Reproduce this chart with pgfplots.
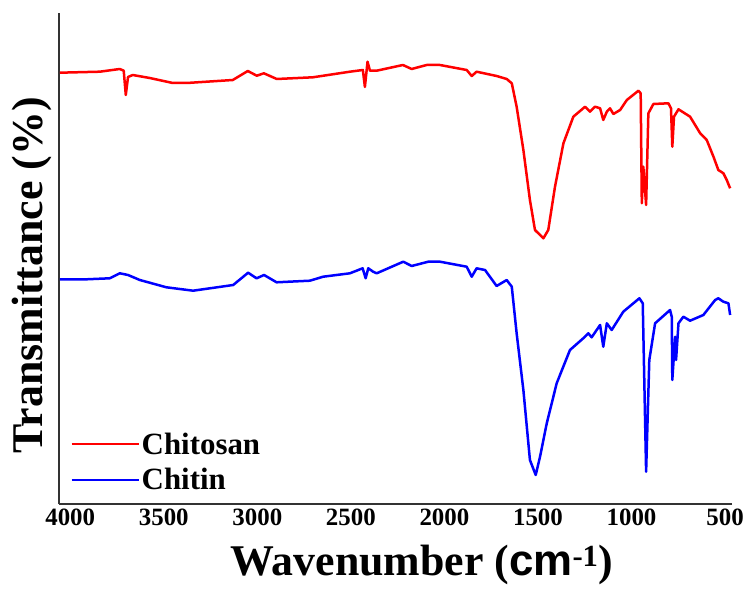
\documentclass[border=0pt]{standalone}
\usepackage{fontspec}
\setmainfont{Liberation Serif}
\newfontfamily\lsans{Liberation Sans}
\usepackage{graphicx}
\usepackage{pgfplots}
\pgfplotsset{compat=1.18}

\begin{document}
\begin{tikzpicture}
\begin{axis}[
    scale only axis,
    width=673bp, height=491bp,
    x dir=reverse,
    xmin=463, xmax=4060,
    ymin=0, ymax=491,
    axis x line=bottom, axis y line=left,
    axis line style={-, line width=1.3bp, black!80},
    xtick={500,1000,1500,2000,2500,3000,3500,4000},
    ytick=\empty,
    major tick length=0pt,
    /pgf/number format/assume math mode=true,
    /pgf/number format/1000 sep={},
    ticklabel style={font=\bfseries\fontsize{25}{25}\selectfont},
    xticklabel style={yshift=-1bp},
    xlabel={\bfseries Wavenumber ({\lsans cm}\textsuperscript{-1})},
    xlabel style={font=\fontsize{44}{44}\selectfont, at={(axis description cs:0.539,-0.124)}, anchor=center},
    ylabel={\bfseries Transmittance (\%)},
    ylabel style={font=\fontsize{44}{44}\selectfont, at={(axis description cs:-0.0401,0.466)}, anchor=center},
    legend style={draw=none, fill=none, at={(axis description cs:0.012,0.017)}, anchor=south west,
        font=\bfseries\fontsize{31}{31}\selectfont, row sep=9bp},
    legend cell align=left,
    legend image code/.code={\draw[#1] (0bp,0bp) -- (67bp,0bp);},
    every axis plot/.append style={line width=2.5bp, line join=round},
]
\addplot[red, mark=none] coordinates {
(4055,431.3) (3842,432.3) (3735,435) (3714,433.3) (3703,409) (3691,427) (3666,429)
(3575,426) (3452,421) (3377,421) (3131,424) (3051,433) (3003,428.3) (2965,430.7)
(2896,425) (2703,426.7) (2505,432.3) (2436,434) (2425,417) (2411,442.3) (2398,433.3)
(2362,433.3) (2222,439) (2175,435) (2095,439) (2024,439) (1881,434) (1854,428)
(1828,432.3) (1721,428) (1667,425) (1640,420.7) (1614,397.3) (1578,354) (1543,304)
(1516,274) (1471,265.7) (1445,274) (1409,317.3) (1364,360.7) (1311,387.3) (1248,397.3)
(1222,392.3) (1195,397.3) (1168,395.7) (1151,384) (1132,392.3) (1115,395.7) (1097,390)
(1061,394) (1025,404) (963,413.3) (951,410.7) (945,300.7) (937,337.3) (922,299)
(910,390.7) (883,400) (803,400.7) (789,395.7) (782,357.3) (773,387.3) (749,394.7)
(687,387.3) (633,370.7) (598,364) (562,347.3) (536,334) (509,330.7) (491,324) (473,315.7)
};
\addlegendentry{Chitosan}
\addplot[blue, mark=none] coordinates {
(4055,224.7) (3913,224.7) (3789,225.7) (3735,230.7) (3691,229) (3628,224) (3486,216.7)
(3343,213.3) (3129,219) (3049,231.3) (3004,225.7) (2964,229) (2897,221.7) (2719,223.3)
(2648,227.3) (2505,230.7) (2437,235.7) (2421,225.7) (2407,235.7) (2381,232.3) (2362,230.7)
(2220,242.3) (2175,238) (2086,242.3) (2024,242.3) (1881,237.3) (1854,227.3) (1828,235.7)
(1783,234) (1721,218) (1667,224) (1640,217.3) (1614,170.7) (1578,114) (1543,44)
(1512,29) (1489,47.3) (1453,80.7) (1400,120.7) (1329,154) (1258,165.7) (1231,170.7)
(1213,166.7) (1168,179) (1151,157.3) (1132,180.7) (1106,174) (1044,192.3) (958,205.7)
(940,200.7) (922,32.3) (905,144) (874,180.7) (794,194) (785,187.3) (782,124) (767,167.3)
(762,144) (749,180.7) (723,187.3) (687,183.3) (616,189) (553,204) (536,205.7) (509,202.3)
(482,200.7) (473,189)
};
\addlegendentry{Chitin}
\coordinate (sw) at (rel axis cs:0,0);
\coordinate (ne) at (rel axis cs:1,1);
\end{axis}
\pgfresetboundingbox
\path[use as bounding box] ([shift={(-59bp,-85bp)}]sw) rectangle ([shift={(15bp,13bp)}]ne);
\end{tikzpicture}
\end{document}
